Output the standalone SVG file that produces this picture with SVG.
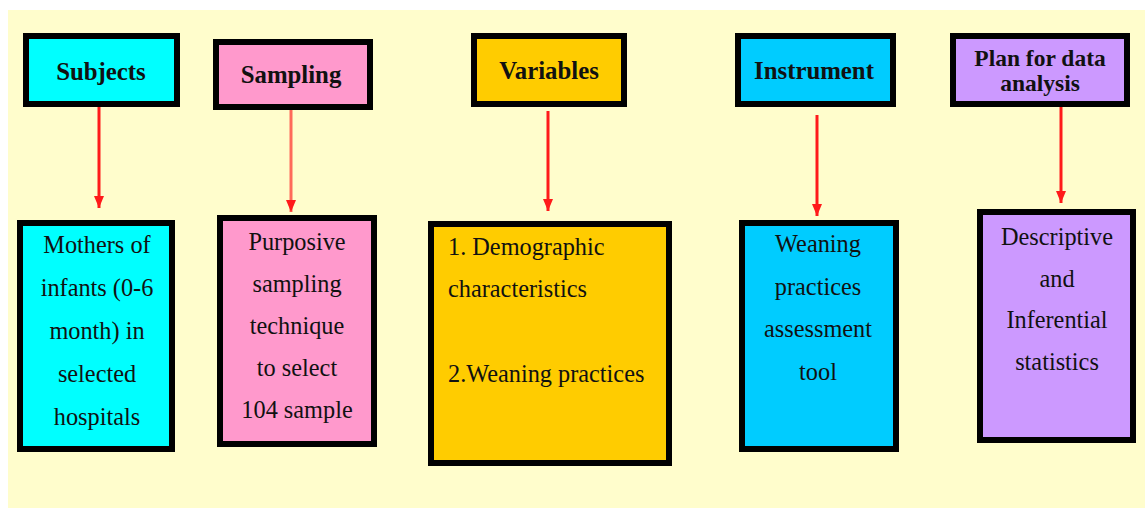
<svg xmlns="http://www.w3.org/2000/svg" width="1145" height="508" viewBox="0 0 1145 508">
<style>
.box{stroke:#000;stroke-width:6}
.h{font-family:"Liberation Serif","Times New Roman",serif;font-weight:bold;font-size:24.8px;fill:#111;text-anchor:middle}
.hs{font-size:23.5px}
.t{font-family:"Liberation Serif","Times New Roman",serif;font-size:24.3px;fill:#111;text-anchor:middle}
.l{text-anchor:start}
.arr{stroke:#FF1A1A;stroke-width:3;fill:none;marker-end:url(#ah)}
</style>
<defs>
<marker id="ah" markerWidth="12" markerHeight="10" refX="12" refY="5" orient="auto" markerUnits="userSpaceOnUse">
<path d="M0,0 L12,5 L0,10 Z" fill="#FF1A1A"/>
</marker>
</defs>
<rect x="0" y="0" width="1145" height="508" fill="#FFFFFF"/>
<rect x="8" y="10" width="1137" height="498" fill="#FFFDCC"/>

<g id="subjects"><rect class="box" x="26" y="36" width="151" height="68" fill="#00FFFF"/><text class="h" x="101" y="80">Subjects</text></g>
<g id="sampling"><rect class="box" x="216" y="42" width="154" height="65" fill="#FF99CC"/><text class="h" x="291" y="83">Sampling</text></g>
<g id="variables"><rect class="box" x="474" y="36" width="150" height="68" fill="#FFCC00"/><text class="h" x="549" y="79">Variables</text></g>
<g id="instrument"><rect class="box" x="738" y="36" width="155" height="68" fill="#00CCFF"/><text class="h" x="814" y="79">Instrument</text></g>
<g id="plan"><rect class="box" x="953" y="36" width="174" height="68" fill="#CC99FF"/><text class="h hs" x="1040" y="66">Plan for data</text><text class="h hs" x="1040" y="91">analysis</text></g>

<g id="mothers"><rect class="box" x="20" y="223" width="152" height="226" fill="#00FFFF"/>
<text class="t" x="97" y="253">Mothers of</text><text class="t" x="97" y="296">infants (0-6</text><text class="t" x="97" y="339">month) in</text><text class="t" x="97" y="382">selected</text><text class="t" x="97" y="425">hospitals</text></g>
<g id="purposive"><rect class="box" x="220" y="218" width="154" height="226" fill="#FF99CC"/>
<text class="t" x="297" y="250">Purposive</text><text class="t" x="297" y="292">sampling</text><text class="t" x="297" y="334">technique</text><text class="t" x="297" y="376">to select</text><text class="t" x="297" y="418">104 sample</text></g>
<g id="demographic"><rect class="box" x="431" y="224" width="238" height="239" fill="#FFCC00"/>
<text class="t l" x="448" y="255">1. Demographic</text><text class="t l" x="448" y="297">characteristics</text><text class="t l" x="448" y="382">2.Weaning practices</text></g>
<g id="weaning"><rect class="box" x="742" y="223" width="154" height="226" fill="#00CCFF"/>
<text class="t" x="818" y="252">Weaning</text><text class="t" x="818" y="295">practices</text><text class="t" x="818" y="337">assessment</text><text class="t" x="818" y="380">tool</text></g>
<g id="descriptive"><rect class="box" x="980" y="212" width="153" height="228" fill="#CC99FF"/>
<text class="t" x="1057" y="245">Descriptive</text><text class="t" x="1057" y="287">and</text><text class="t" x="1057" y="328">Inferential</text><text class="t" x="1057" y="370">statistics</text></g>

<g id="connectors">
<line class="arr" x1="99" y1="107" x2="99" y2="208"/>
<line class="arr" x1="291" y1="110" x2="291" y2="212" style="stroke:#FF6A5A"/>
<line class="arr" x1="548" y1="111" x2="548" y2="211"/>
<line class="arr" x1="817" y1="115" x2="817" y2="216"/>
<line class="arr" x1="1061" y1="107" x2="1061" y2="203"/>
</g>
</svg>
